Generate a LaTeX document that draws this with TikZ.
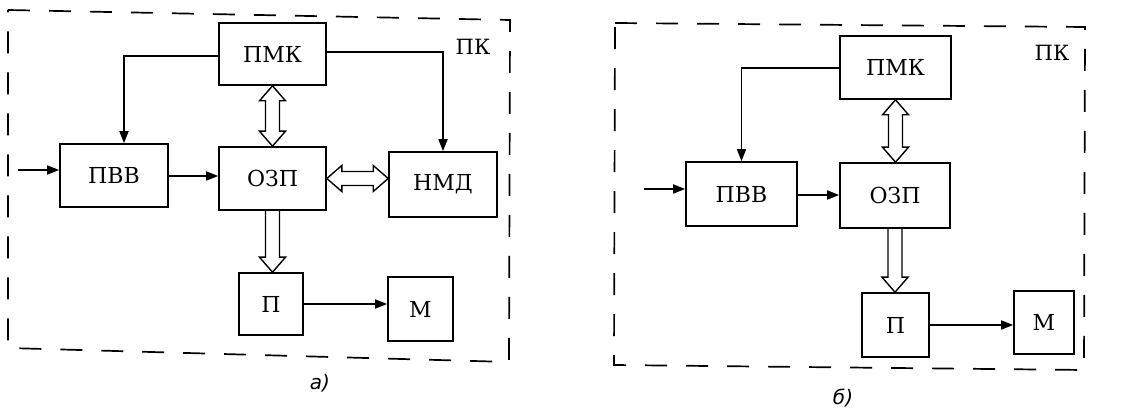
\documentclass[tikz,border=0pt]{standalone}
\usepackage{fontspec}
\setmainfont{DejaVu Serif}
\newfontfamily\capfont{DejaVu Sans}
\usepackage{tikz}
\usetikzlibrary{arrows.meta, positioning, calc}

\begin{document}
\begin{tikzpicture}[x=1pt, y=-1pt,
    block/.style={rectangle, draw, line width=1.6pt, inner sep=0pt,
                  font=\fontsize{22}{24}\selectfont},
    sig/.style={line width=1.7pt, -{Triangle[length=12pt, width=9pt]}},
    % hollow two-way bus arrow
    bus/.style={line width=1.4pt, line join=miter, to path={
        let \p1=($(\tikztotarget)-(\tikztostart)$), \n1={veclen(\x1,\y1)},
            \n2={atan2(\y1,\x1)} in
        {[shift={(\tikztostart)}, rotate=\n2]
         (0,0) -- (15,13) -- (15,7) -- (\n1-15,7) -- (\n1-15,13) -- (\n1,0)
         -- (\n1-15,-13) -- (\n1-15,-7) -- (15,-7) -- (15,-13) -- cycle}}},
    % hollow one-way bus arrow
    busone/.style={line width=1.4pt, line join=miter, to path={
        let \p1=($(\tikztotarget)-(\tikztostart)$), \n1={veclen(\x1,\y1)},
            \n2={atan2(\y1,\x1)} in
        {[shift={(\tikztostart)}, rotate=\n2]
         (0,7) -- (\n1-15,7) -- (\n1-15,13) -- (\n1,0)
         -- (\n1-15,-13) -- (\n1-15,-7) -- (0,-7)}}},
    frame/.style={line width=1.7pt, dash pattern=on 22pt off 19pt},
    tag/.style={font=\fontsize{21}{23}\selectfont},
    sub/.style={font=\capfont\itshape\fontsize{20}{22}\selectfont}
]
\useasboundingbox (0,0) rectangle (1141,411);

% panel a
\draw[frame] (8,10) -- (510,20) -- (509,362) -- (8,348) -- cycle;
\node[block, minimum width=107pt, minimum height=62pt] (pmkA) at (272.5,54) {ПМК};
\node[block, minimum width=108pt, minimum height=63pt] (pvvA) at (114,175.5) {ПВВ};
\node[block, minimum width=107pt, minimum height=63pt] (ozpA) at (272.5,178.5) {ОЗП};
\node[block, minimum width=108pt, minimum height=65pt] (nmdA) at (443,184.5) {НМД};
\node[block, minimum width=64pt, minimum height=62pt] (pA) at (271,304) {П};
\node[block, minimum width=65pt, minimum height=64pt] (mA) at (420.5,309) {М};
\node[tag] (pkA) at (473,47) {ПК};
\node[sub] (capA) at (320,383) {а)};
\coordinate (inA) at (18,170);

\draw[sig] (inA) -- (inA -| pvvA.west);
\draw[sig] ([yshift=-0.5pt]pvvA.east) -- ([yshift=-0.5pt]pvvA.east -| ozpA.west);
\draw[sig] ([yshift=-2pt]pmkA.west) -| ([xshift=10pt]pvvA.north);
\draw[sig] ([yshift=2pt]pmkA.east) -| (nmdA.north);
\draw[bus] (pmkA.south) to (ozpA.north);
\draw[bus] (ozpA.east) to (ozpA.east -| nmdA.west);
\draw[busone] (ozpA.south) to (ozpA.south |- pA.north);
\draw[sig] (pA.east) -- (pA.east -| mA.west);

% panel b
\draw[frame] (615,23) -- (1085,27) -- (1084,370) -- (614,365) -- cycle;
\node[block, minimum width=111pt, minimum height=63pt] (pmkB) at (895.5,67.5) {ПМК};
\node[block, minimum width=111pt, minimum height=64pt] (pvvB) at (741.5,194) {ПВВ};
\node[block, minimum width=110pt, minimum height=65pt] (ozpB) at (895,195.5) {ОЗП};
\node[block, minimum width=67pt, minimum height=64pt] (pB) at (895.5,325) {П};
\node[block, minimum width=60pt, minimum height=63pt] (mB) at (1044,322.5) {М};
\node[tag] (pkB) at (1052,53) {ПК};
\node[sub] (capB) at (843,398) {б)};
\coordinate (inB) at (644,189);

\draw[sig] (inB) -- (inB -| pvvB.west);
\draw[sig] ([yshift=-1pt]pvvB.east) -- ([yshift=-1pt]pvvB.east -| ozpB.west);
\draw[sig] ([yshift=-0.5pt]pmkB.west) -| (pvvB.north);
\draw[bus] (pmkB.south) to (pmkB.south |- ozpB.north);
\draw[busone] (ozpB.south) to (ozpB.south |- pB.north);
\draw[sig] (pB.east) -- (pB.east -| mB.west);

\end{tikzpicture}
\end{document}
